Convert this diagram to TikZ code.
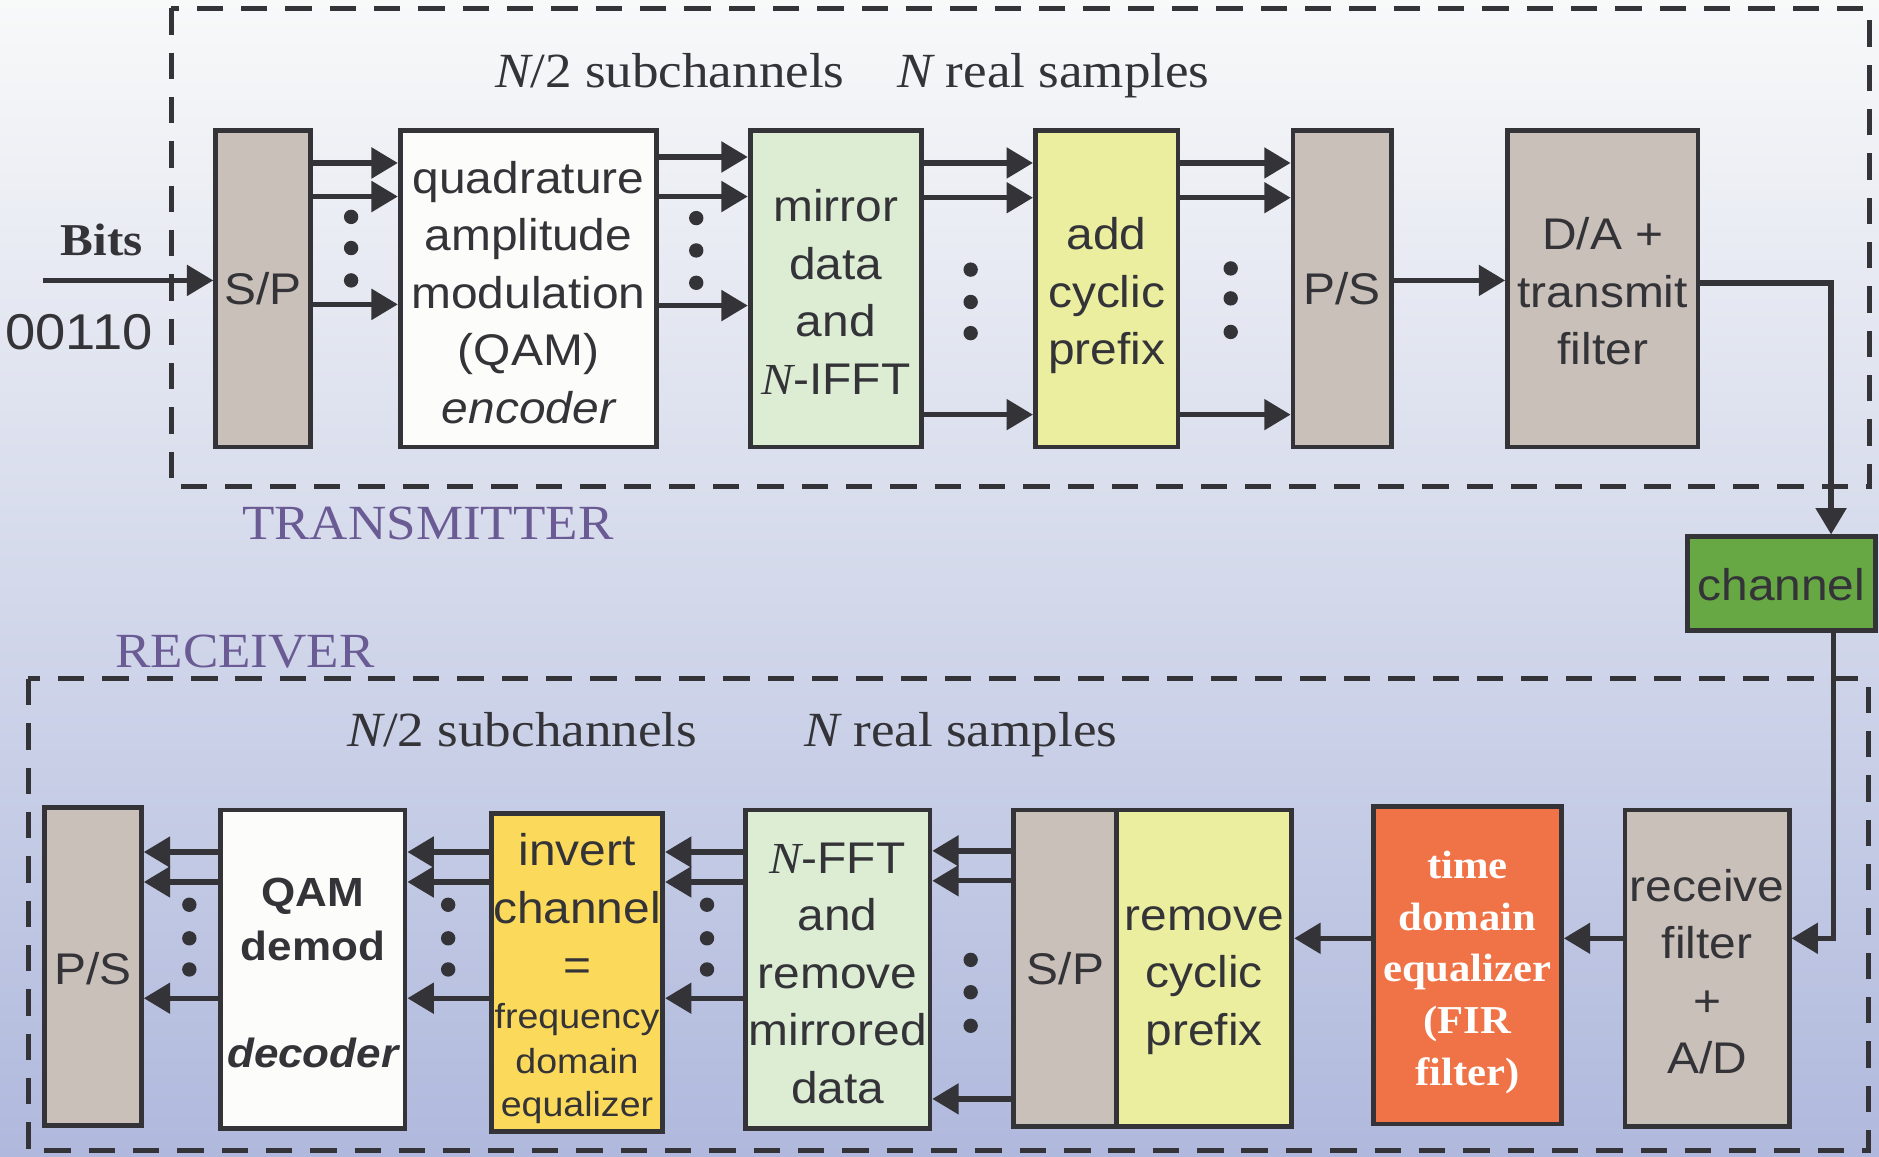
\documentclass[tikz,border=0pt]{standalone}
\usepackage{fontspec}
\setmainfont{Liberation Sans}[FakeStretch=1.08]
\newfontfamily\serif{Liberation Serif}[FakeStretch=1.08]
\usetikzlibrary{arrows.meta}
\definecolor{lc}{HTML}{333338}
\definecolor{taupe}{HTML}{C8C0B9}
\definecolor{wbox}{HTML}{FCFCFA}
\definecolor{lgreen}{HTML}{DCEDD4}
\definecolor{lyellow}{HTML}{EAEE9E}
\definecolor{gold}{HTML}{FBD95A}
\definecolor{orng}{HTML}{EF7346}
\definecolor{chgreen}{HTML}{67A845}
\definecolor{purp}{HTML}{6B5B95}
\definecolor{bgtop}{HTML}{F8F9F9}
\definecolor{bgbot}{HTML}{B0B9DD}
\newcommand{\smf}{\fontsize{29}{37}\selectfont}
\tikzset{
  blk/.style={draw=lc, line width=4pt, inner sep=0pt},
  bt/.style={inner sep=0pt, align=center, text=lc, font=\fontsize{37}{48}\selectfont},
  arr/.style={draw=lc, line width=4.5pt, -{Triangle[length=22pt,width=25pt]}},
  dbox/.style={draw=lc, line width=4pt, dash pattern=on 22pt off 15pt},
  lbl/.style={font=\serif\fontsize{41}{48}\selectfont, text=lc, inner sep=0pt},
  sect/.style={font=\serif\fontsize{41}{48}\selectfont, text=purp, inner sep=0pt},
}
\begin{document}
\begin{tikzpicture}[x=1pt,y=-1pt]
\useasboundingbox (0,0) rectangle (1568,965);
\shade[top color=bgtop, bottom color=bgbot] (0,0) rectangle (1568,965);

% dashed frames
\draw[dbox] (143,7) rectangle (1560,406);
\draw[dbox] (23.5,566.5) rectangle (1559,960);

% labels
\node[lbl, anchor=base] (t1) at (559,73) {{\itshape N}/2 subchannels};
\node[lbl, anchor=base] (t2) at (879,73) {{\itshape N} real samples};
\node[lbl, anchor=base] (r1) at (436,623) {{\itshape N}/2 subchannels};
\node[lbl, anchor=base] (r2) at (802,623) {{\itshape N} real samples};
\node[sect, anchor=base] (tx) at (357,450) {TRANSMITTER};
\node[sect, anchor=base] (rx) at (204.5,557) {RECEIVER};
\node[anchor=base, inner sep=0pt, text=lc, font=\serif\bfseries\fontsize{38}{40}\selectfont] (bits) at (85,213) {Bits};
\node[anchor=base, inner sep=0pt, text=lc, font=\fontsize{42}{44}\selectfont] (bin) at (66,292) {00110};

% transmitter blocks
\node[blk, fill=taupe, minimum width=79pt, minimum height=264pt,
  label={[bt]center:S/P}] (sp1) at (219.5,241) {};
\node[blk, fill=wbox, minimum width=214pt, minimum height=264pt,
  label={[bt, yshift=-3pt]center:{quadrature\\amplitude\\modulation\\(QAM)\\\itshape encoder}}] (qam) at (441,241) {};
\node[blk, fill=lgreen, minimum width=143pt, minimum height=264pt,
  label={[bt, yshift=-2.5pt]center:{mirror\\data\\and\\{\serif\itshape N}-IFFT}}] (mir) at (697.5,241) {};
\node[blk, fill=lyellow, minimum width=119pt, minimum height=264pt,
  label={[bt, yshift=-6pt]center:{add\\cyclic\\prefix}}] (acp) at (923.5,241) {};
\node[blk, fill=taupe, minimum width=82pt, minimum height=264pt,
  label={[bt]center:P/S}] (ps1) at (1120,241) {};
\node[blk, fill=taupe, minimum width=159pt, minimum height=264pt,
  label={[bt, yshift=-2pt]center:{D/A +\\transmit\\filter}}] (da) at (1337.5,241) {};
\node[blk, fill=chgreen, minimum width=157pt, minimum height=78pt,
  label={[bt, yshift=-1pt]center:channel}] (channel) at (1486.5,487) {};

% receiver blocks
\node[blk, fill=taupe, minimum width=81pt, minimum height=265pt,
  label={[bt, yshift=-2pt]center:P/S}] (ps2) at (77.5,806.5) {};
\node[blk, fill=wbox, minimum width=154pt, minimum height=266pt,
  label={[bt, yshift=-3pt, font=\fontsize{34}{45}\selectfont\bfseries]center:{QAM\\demod\\~\\\itshape decoder}}] (qdm) at (261,809) {};
\node[blk, fill=gold, minimum width=143pt, minimum height=265pt,
  label={[bt, yshift=-5pt]center:{invert\\channel\\=\\[-8pt]\smf frequency\\[-11pt]\smf domain\\[-12pt]\smf equalizer}}] (inv) at (481.5,811.5) {};
\node[blk, fill=lgreen, minimum width=154pt, minimum height=266pt,
  label={[bt, yshift=-3pt]center:{{\serif\itshape N}-FFT\\and\\remove\\mirrored\\data}}] (fft) at (699,809) {};
\node[blk, fill=taupe, minimum width=86pt, minimum height=264pt,
  label={[bt]center:S/P}] (sp2) at (889,808) {};
\node[blk, fill=lyellow, minimum width=146pt, minimum height=264pt,
  label={[bt, yshift=-10pt]center:{remove\\cyclic\\prefix}}] (rcp) at (1005,808) {};
\node[blk, fill=orng, minimum width=157pt, minimum height=265pt,
  label={[bt, yshift=-6pt, text=white, font=\serif\bfseries\fontsize{33}{43}\selectfont]center:{time\\domain\\equalizer\\(FIR\\filter)}}] (tde) at (1224.5,805.5) {};
\node[blk, fill=taupe, minimum width=137pt, minimum height=264pt,
  label={[bt, yshift=-3pt]center:{receive\\filter\\+\\A/D}}] (rf) at (1424.5,808) {};

% input
\coordinate (inp) at (36,234);
\draw[arr] (inp) -- (sp1.west |- inp);

% transmitter arrows
\foreach \y in {136,164,254} \draw[arr] (sp1.east |- 0,\y) -- (qam.west |- 0,\y);
\foreach \y in {131,164,255} \draw[arr] (qam.east |- 0,\y) -- (mir.west |- 0,\y);
\foreach \y in {136,165,346} \draw[arr] (mir.east |- 0,\y) -- (acp.west |- 0,\y);
\foreach \y in {136,165,346} \draw[arr] (acp.east |- 0,\y) -- (ps1.west |- 0,\y);
\draw[arr] (ps1.east |- 0,234) -- (da.west |- 0,234);
\coordinate (c1) at (1528,236);
\draw[arr] (da.east |- c1) -- (c1) -- (c1 |- channel.north);

% receiver arrows
\coordinate (c2) at (1530,783);
\draw[arr] (c2 |- channel.south) -- (c2) -- (rf.east |- c2);
\draw[arr] (rf.west |- 0,783) -- (tde.east |- 0,783);
\draw[arr] (tde.west |- 0,783) -- (rcp.east |- 0,783);
\foreach \y in {710,735,917} \draw[arr] (sp2.west |- 0,\y) -- (fft.east |- 0,\y);
\foreach \y in {711,736,833} \draw[arr] (fft.west |- 0,\y) -- (inv.east |- 0,\y);
\foreach \y in {711,736,833} \draw[arr] (inv.west |- 0,\y) -- (qdm.east |- 0,\y);
\foreach \y in {711,736,833} \draw[arr] (qdm.west |- 0,\y) -- (ps2.east |- 0,\y);

% dots
\foreach \x/\a/\b/\c in {293/181/207/234, 581/182/209/236, 810/225/252/278, 1027/224/249/277,
   810/801/828/856, 590/755/783/809, 374/755/783/809, 158/755/783/809}
  \foreach \y in {\a,\b,\c} \fill[lc] (\x,\y) circle (6pt);
\end{tikzpicture}
\end{document}
